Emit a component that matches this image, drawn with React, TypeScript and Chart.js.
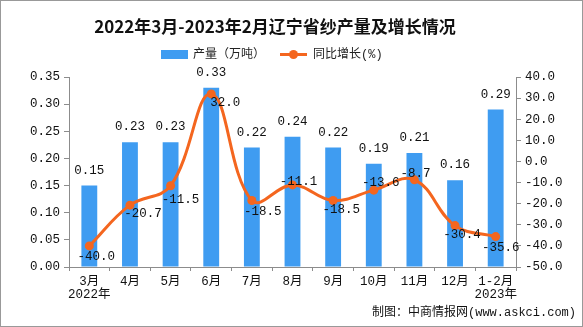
import React, { useEffect, useRef } from "react";
import { Chart, registerables } from "chart.js";

Chart.register(...registerables);

const categories: (string | string[])[] = [
  ["3月", "2022年"], "4月", "5月", "6月", "7月", "8月", "9月", "10月", "11月", "12月", ["1-2月", "2023年"],
];
const output = [0.15, 0.23, 0.23, 0.33, 0.22, 0.24, 0.22, 0.19, 0.21, 0.16, 0.29];
const growth = [-40.0, -20.7, -11.5, 32.0, -18.5, -11.1, -18.5, -13.6, -8.7, -30.4, -35.6];
const leftMin = 0;
const leftMax = 0.35;
const leftStep = 0.05;
const rightMin = -50;
const rightMax = 40;
const rightStep = 10;
// label nudges (px) for the growth value labels
const growthLabelDx = [7, 13, 10, 14, 11, 6, 8, 7, 1, 7, 5];
const growthLabelDy = [11, 9, 14, 9, 11, -3, 9, -7, -6, 9, 11];

const TITLE = "2022年3月-2023年2月辽宁省纱产量及增长情况";
const LEGEND_BAR = "产量（万吨）";
const LEGEND_LINE = "同比增长(%)";
const FOOTER = "制图：中商情报网(www.askci.com)";

const BAR_COLOR = "#3f9cf1";
const LINE_COLOR = "#f4661f";
const AXIS_COLOR = "#8c8c8c";
const FONT = "'Liberation Mono', 'Noto Sans CJK SC', monospace";
const CJK = "'Noto Sans CJK SC', 'Liberation Mono', sans-serif";

const decorPlugin = {
  id: "decor",
  afterDraw(chart: any) {
    const ctx: CanvasRenderingContext2D = chart.ctx;
    ctx.save();
    // frame
    ctx.strokeStyle = "#999";
    ctx.lineWidth = 1;
    ctx.strokeRect(0.5, 0.5, chart.width - 1, chart.height - 1);
    // title
    ctx.fillStyle = "#111";
    ctx.font = `bold 17px ${CJK}`;
    ctx.textAlign = "center";
    ctx.textBaseline = "middle";
    ctx.fillText(TITLE, 275, 27);
    // legend
    ctx.fillStyle = BAR_COLOR;
    ctx.fillRect(161, 50, 27, 9);
    ctx.fillStyle = "#222";
    ctx.font = `12px ${FONT}`;
    ctx.textAlign = "left";
    ctx.fillText(LEGEND_BAR, 193, 55);
    ctx.strokeStyle = LINE_COLOR;
    ctx.lineWidth = 3;
    ctx.beginPath();
    ctx.moveTo(280, 54.5);
    ctx.lineTo(307, 54.5);
    ctx.stroke();
    ctx.fillStyle = LINE_COLOR;
    ctx.beginPath();
    ctx.arc(293.5, 54.5, 4.5, 0, Math.PI * 2);
    ctx.fill();
    ctx.fillStyle = "#222";
    ctx.fillText(LEGEND_LINE, 313, 55);
    // footer
    ctx.font = `12px ${FONT}`;
    ctx.textAlign = "right";
    ctx.fillStyle = "#111";
    ctx.fillText(FOOTER, 576, 313);
    ctx.restore();
  },
  afterDatasetsDraw(chart: any) {
    const ctx: CanvasRenderingContext2D = chart.ctx;
    ctx.save();
    ctx.font = `12.5px ${FONT}`;
    ctx.fillStyle = "#111";
    ctx.textAlign = "center";
    ctx.textBaseline = "middle";
    const barMeta = chart.getDatasetMeta(0);
    barMeta.data.forEach((el: any, i: number) => {
      ctx.fillText(output[i].toFixed(2), el.x, el.y - 15);
    });
    const lineMeta = chart.getDatasetMeta(1);
    lineMeta.data.forEach((el: any, i: number) => {
      ctx.fillText(growth[i].toFixed(1), el.x + growthLabelDx[i], el.y + growthLabelDy[i]);
    });
    ctx.restore();
  },
};

export default function App() {
  const ref = useRef<HTMLCanvasElement | null>(null);
  useEffect(() => {
    document.body.style.margin = "0";
    const canvas = ref.current!;
    const chart = new Chart(canvas, {
      type: "bar",
      data: {
        labels: categories as any,
        datasets: [
          {
            type: "bar",
            label: LEGEND_BAR,
            data: output,
            backgroundColor: BAR_COLOR,
            yAxisID: "y",
            barPercentage: 0.39,
            categoryPercentage: 1,
            order: 2,
          },
          {
            type: "line",
            label: LEGEND_LINE,
            data: growth,
            borderColor: LINE_COLOR,
            backgroundColor: LINE_COLOR,
            borderWidth: 3,
            pointRadius: 4.5,
            pointBackgroundColor: LINE_COLOR,
            pointBorderWidth: 0,
            tension: 0.4,
            yAxisID: "y1",
            order: 1,
          } as any,
        ],
      },
      options: {
        responsive: false,
        animation: false,
        layout: { padding: { top: 77, left: 0, right: 0, bottom: 0 } },
        plugins: {
          legend: { display: false },
          title: { display: false },
          tooltip: { enabled: false },
        },
        scales: {
          x: {
            grid: { display: true, drawOnChartArea: false, drawTicks: true, tickLength: 4, color: AXIS_COLOR, offset: true },
            border: { display: true, color: AXIS_COLOR },
            ticks: {
              color: "#111",
              font: { family: FONT, size: 12.5, lineHeight: 1.05 },
              padding: 4,
              maxRotation: 0,
              autoSkip: false,
            },
            afterFit(scale: any) {
              scale.height = 60;
            },
          },
          y: {
            position: "left",
            min: leftMin,
            max: leftMax,
            grid: { display: true, drawOnChartArea: false, drawTicks: true, tickLength: 5, color: AXIS_COLOR },
            border: { display: true, color: AXIS_COLOR },
            ticks: {
              stepSize: leftStep,
              color: "#111",
              padding: 4,
              font: { family: FONT, size: 12.5 },
              callback: (v: any) => Number(v).toFixed(2),
            },
            afterFit(scale: any) {
              scale.width = 69;
            },
          },
          y1: {
            position: "right",
            min: rightMin,
            max: rightMax,
            grid: { display: true, drawOnChartArea: false, drawTicks: true, tickLength: 5, color: AXIS_COLOR },
            border: { display: true, color: AXIS_COLOR },
            ticks: {
              stepSize: rightStep,
              color: "#111",
              padding: 4,
              font: { family: FONT, size: 12.5 },
              callback: (v: any) => Number(v).toFixed(1),
            },
            afterFit(scale: any) {
              scale.width = 67;
            },
          },
        },
      } as any,
      plugins: [decorPlugin],
    });
    return () => chart.destroy();
  }, []);
  return (
    <div style={{ position: "fixed", left: 0, top: 0, width: 583, height: 327, background: "#fff" }}>
      <canvas ref={ref} width={583} height={327} style={{ display: "block" }} />
    </div>
  );
}
